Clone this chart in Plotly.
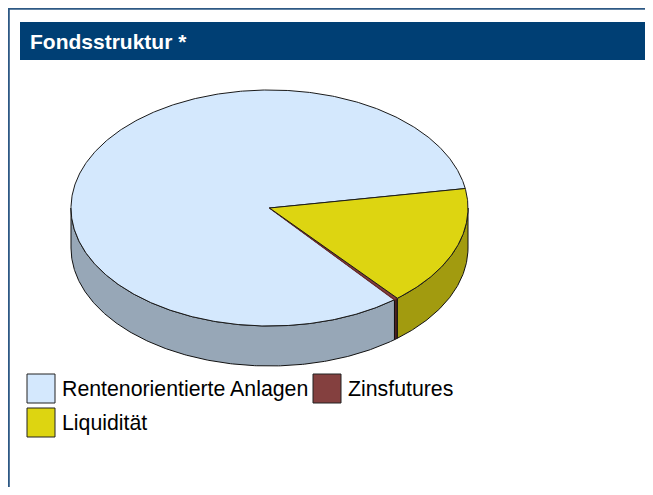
import numpy as np
import plotly.graph_objects as go

# ---- data ----
categories = ["Rentenorientierte Anlagen", "Zinsfutures", "Liquidität"]
shares = [83.2, 0.3, 16.5]
top_colors = ["#d4e8fd", "#84403f", "#ddd511"]
side_colors = ["#97a7b7", "#4e2222", "#a29b0f"]
title_text = "Fondsstruktur *"

# ---- layout constants (screen pixels) ----
W, H = 653, 495
BODY = 8  # default page margin around the plot div
CX, CY, RX, RY, DEPTH = 269.5, 208.0, 198.5, 118.0, 40.0
START = 80.5  # clockwise degrees from 12 o'clock; slices run counter-clockwise
FONT = "Liberation Sans, Arial, sans-serif"


def arc(a, b, dy=0.0, n=None):
    if n is None:
        n = max(3, int(abs(b - a) * 2) + 2)
    t = np.radians(np.linspace(a, b, n))
    return CX + RX * np.sin(t), CY - RY * np.cos(t) + dy


total = float(sum(shares))
bounds = []
hi = START
for v in shares:
    lo = hi - v / total * 360.0
    bounds.append((lo, hi))
    hi = lo

fig = go.Figure()

# side walls (front half of the disc: 90..270 deg clockwise)
for (lo, hi), name, col in zip(bounds, categories, side_colors):
    for k in (-1, 0, 1):
        a = max(lo, 90 + 360 * k)
        b = min(hi, 270 + 360 * k)
        if b > a:
            xt, yt = arc(a, b)
            xb, yb = arc(b, a, DEPTH)
            xs = np.concatenate([xt, xb, xt[:1]])
            ys = np.concatenate([yt, yb, yt[:1]])
            fig.add_trace(go.Scatter(
                x=xs, y=ys, mode="lines", fill="toself", fillcolor=col,
                line=dict(color="#111111", width=1), hoverinfo="skip",
                showlegend=False, name=name))

# top faces
for (lo, hi), name, col in zip(bounds, categories, top_colors):
    xa, ya = arc(lo, hi)
    xs = np.concatenate([[CX], xa, [CX]])
    ys = np.concatenate([[CY], ya, [CY]])
    thin = (hi - lo) < 3
    fig.add_trace(go.Scatter(
        x=xs, y=ys, mode="lines", fill="toself", fillcolor=col,
        line=dict(color="#6a2b2b" if thin else "#1a1a1a", width=1.2 if thin else 1),
        hoverinfo="skip", showlegend=False, name=name))

shapes = [
    # outer frame
    dict(type="line", xref="x", yref="y", x0=8, x1=W, y0=8.8, y1=8.8,
         line=dict(color="#2d5884", width=2)),
    dict(type="line", xref="x", yref="y", x0=8.8, x1=8.8, y0=8, y1=H,
         line=dict(color="#2d5884", width=2)),
    # header bar
    dict(type="rect", xref="x", yref="y", x0=20, x1=646, y0=22, y1=60,
         fillcolor="#003f74", line=dict(width=0), layer="below"),
]
annotations = [
    dict(text="<b>" + title_text + "</b>", x=28, y=41, xref="x", yref="y",
         xanchor="left", yanchor="middle", showarrow=False,
         font=dict(family=FONT, size=21, color="white")),
]

# legend (row-major, two columns)
leg_pos = [(27, 374), (313, 374), (27, 408)]
for (lx, ly), name, col in zip(leg_pos, categories, top_colors):
    shapes.append(dict(type="rect", xref="x", yref="y", x0=lx, x1=lx + 28,
                       y0=ly, y1=ly + 29, fillcolor=col,
                       line=dict(color="#222222", width=1)))
    annotations.append(dict(text=name, x=lx + 33, y=ly + 15, xref="x", yref="y",
                            xanchor="left", yanchor="middle", showarrow=False,
                            font=dict(family=FONT, size=21.3, color="black")))

fig.update_layout(
    width=W - 2 * BODY, height=H - 2 * BODY, margin=dict(l=0, r=0, t=0, b=0),
    paper_bgcolor="white", plot_bgcolor="white",
    xaxis=dict(range=[BODY, W - BODY], visible=False, fixedrange=True),
    yaxis=dict(range=[H - BODY, BODY], visible=False, fixedrange=True),
    shapes=shapes, annotations=annotations, showlegend=False,
)

fig.write_html("out.html", config={"displayModeBar": False})
